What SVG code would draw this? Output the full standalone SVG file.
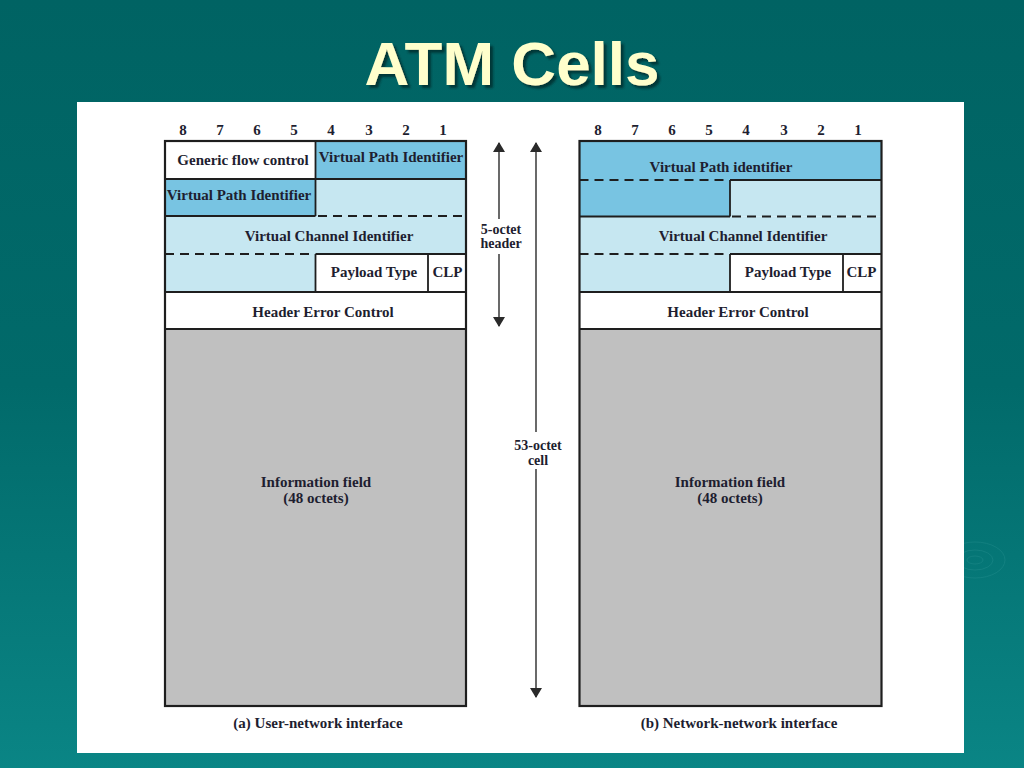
<svg xmlns="http://www.w3.org/2000/svg" width="1024" height="768" viewBox="0 0 1024 768">
<defs>
<linearGradient id="bg" x1="0" y1="0" x2="0" y2="1">
<stop offset="0" stop-color="#006363"/>
<stop offset="0.5" stop-color="#016a6a"/>
<stop offset="1" stop-color="#0a8585"/>
</linearGradient>
<marker id="ah" viewBox="0 0 10 12" refX="9" refY="6" markerWidth="10" markerHeight="12" markerUnits="userSpaceOnUse" orient="auto">
<path d="M0,0 L10,6 L0,12 Z" fill="#2a2a2a"/>
</marker>
<filter id="sh" x="-5%" y="-5%" width="110%" height="120%">
<feDropShadow dx="3" dy="3" stdDeviation="1" flood-color="#002a2a" flood-opacity="0.8"/>
</filter>
</defs>
<style>
.t{font-family:"Liberation Serif","Times New Roman",serif;font-weight:bold;font-size:15px;fill:#1e1e30;text-anchor:middle}
.o{fill:none;stroke:#1e1e1e;stroke-width:2.2}
.s{fill:none;stroke:#1e1e1e;stroke-width:1.8}
.d{fill:none;stroke:#1e1e1e;stroke-width:2;stroke-dasharray:9,6}
.dk{fill:#78c4e2}
.lt{fill:#c6e7f1}
.wh{fill:#ffffff}
.gr{fill:#c0c0c0}
.ar{stroke:#2a2a2a;stroke-width:1.4;fill:none}
</style>
<rect x="0" y="0" width="1024" height="768" fill="url(#bg)"/>
<g opacity="0.07" fill="none" stroke="#bff">
<ellipse cx="975" cy="560" rx="30" ry="18"/>
<ellipse cx="975" cy="560" rx="18" ry="10"/>
<ellipse cx="975" cy="560" rx="8" ry="4"/>
</g>
<text x="512" y="85" font-family="Liberation Sans, Arial, sans-serif" font-weight="bold" font-size="62" fill="#ffffcc" text-anchor="middle" filter="url(#sh)">ATM Cells</text>
<rect x="77" y="102" width="887" height="651" fill="#ffffff"/>

<g id="bits-left" class="t">
<text x="183" y="135">8</text><text x="220" y="135">7</text><text x="257" y="135">6</text><text x="294" y="135">5</text>
<text x="331" y="135">4</text><text x="369" y="135">3</text><text x="406" y="135">2</text><text x="443" y="135">1</text>
</g>
<g id="bits-right" class="t">
<text x="598" y="135">8</text><text x="635" y="135">7</text><text x="672" y="135">6</text><text x="709" y="135">5</text>
<text x="746" y="135">4</text><text x="784" y="135">3</text><text x="821" y="135">2</text><text x="858" y="135">1</text>
</g>

<g id="cell-uni">
<rect class="wh" x="165" y="141" width="150.5" height="38"/>
<rect class="dk" x="315.5" y="141" width="150.5" height="38"/>
<rect class="dk" x="165" y="179" width="150.5" height="37"/>
<rect class="lt" x="315.5" y="179" width="150.5" height="37"/>
<rect class="lt" x="165" y="216" width="301" height="38"/>
<rect class="lt" x="165" y="254" width="150.5" height="38"/>
<rect class="wh" x="315.5" y="254" width="150.5" height="38"/>
<rect class="wh" x="165" y="292" width="301" height="37"/>
<rect class="gr" x="165" y="329" width="301" height="377"/>
<path class="s" d="M165,179 H466 M165,216 H315.5 M315.5,254 H466 M165,292 H466 M165,329 H466 M315.5,141 V216 M315.5,254 V292 M428,254 V292"/>
<path class="d" d="M318,216 H466 M165,254 H315"/>
<rect class="o" x="165" y="141" width="301" height="565"/>
<g class="t">
<text x="243" y="165">Generic flow control</text>
<text x="391" y="162">Virtual Path Identifier</text>
<text x="239" y="200">Virtual Path Identifier</text>
<text x="329" y="241">Virtual Channel Identifier</text>
<text x="374" y="277">Payload Type</text>
<text x="447.5" y="277">CLP</text>
<text x="323" y="317">Header Error Control</text>
<text x="316" y="487">Information field</text>
<text x="316" y="503">(48 octets)</text>
<text x="318" y="728">(a) User-network interface</text>
</g>
</g>

<g id="cell-nni">
<rect class="dk" x="579.5" y="141" width="302" height="39"/>
<rect class="dk" x="579.5" y="180" width="150.5" height="36.5"/>
<rect class="lt" x="730" y="180" width="151.5" height="36.5"/>
<rect class="lt" x="579.5" y="216.5" width="302" height="37.5"/>
<rect class="lt" x="579.5" y="254" width="150.5" height="38"/>
<rect class="wh" x="730" y="254" width="151.5" height="38"/>
<rect class="wh" x="579.5" y="292" width="302" height="37"/>
<rect class="gr" x="579.5" y="329" width="302" height="377"/>
<path class="s" d="M730,180 H881.5 M579.5,216.5 H730 M730,254 H881.5 M579.5,292 H881.5 M579.5,329 H881.5 M730,180 V216.5 M730,254 V292 M843,254 V292"/>
<path class="d" d="M579.5,180 H728 M732,216.5 H881.5 M579.5,254 H729"/>
<rect class="o" x="579.5" y="141" width="302" height="565"/>
<g class="t">
<text x="721" y="172">Virtual Path identifier</text>
<text x="743" y="241">Virtual Channel Identifier</text>
<text x="788" y="277">Payload Type</text>
<text x="861.5" y="277">CLP</text>
<text x="738" y="317">Header Error Control</text>
<text x="730" y="487">Information field</text>
<text x="730" y="503">(48 octets)</text>
<text x="739" y="728">(b) Network-network interface</text>
</g>
</g>

<g id="connectors">
<line class="ar" x1="499" y1="219" x2="499" y2="143" marker-end="url(#ah)"/>
<line class="ar" x1="499" y1="254" x2="499" y2="326" marker-end="url(#ah)"/>
<line class="ar" x1="536" y1="432" x2="536" y2="143" marker-end="url(#ah)"/>
<line class="ar" x1="536" y1="469" x2="536" y2="697" marker-end="url(#ah)"/>
</g>
<g id="labels" class="t">
<text x="501" y="234" style="font-size:14px">5-octet</text>
<text x="501" y="248" style="font-size:14px">header</text>
<text x="538" y="450" style="font-size:14px">53-octet</text>
<text x="538" y="465" style="font-size:14px">cell</text>
</g>
</svg>
